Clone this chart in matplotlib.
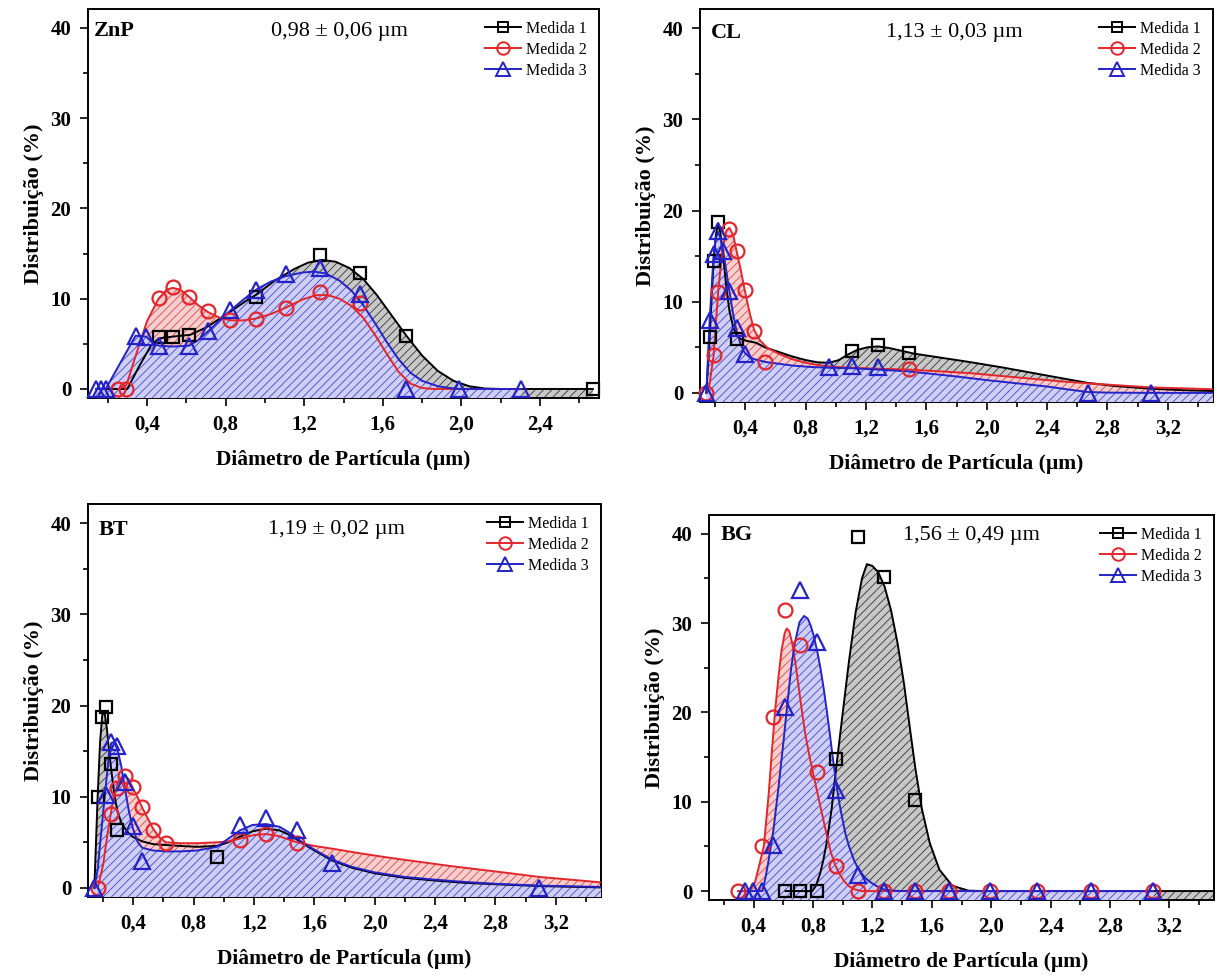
import matplotlib.pyplot as plt
from matplotlib.lines import Line2D
from matplotlib.ticker import MultipleLocator, FuncFormatter

plt.rcParams['font.family'] = ['Liberation Serif', 'DejaVu Serif']
plt.rcParams['font.weight'] = 'bold'
plt.rcParams['hatch.linewidth'] = 0.6

# ---------------- ZnP ----------------
zn_m1_x = [0.459, 0.531, 0.615, 0.955, 1.281, 1.484, 1.718, 2.669]
zn_m1_y = [5.8, 5.8, 6.0, 10.2, 14.8, 12.9, 5.9, 0.0]
zn_m2_x = [0.255, 0.295, 0.459, 0.531, 0.615, 0.712, 0.825, 0.955, 1.106, 1.281, 1.484]
zn_m2_y = [0, 0, 10.1, 11.3, 10.2, 8.6, 7.6, 7.8, 9.0, 10.7, 9.5]
zn_m3_x = [0.142, 0.164, 0.19, 0.342, 0.396, 0.459, 0.615, 0.712, 0.825, 0.955, 1.106,
           1.281, 1.484, 1.718, 1.99, 2.305]
zn_m3_y = [0, 0, 0, 5.9, 5.8, 4.8, 4.8, 6.4, 8.7, 11.0, 12.7, 13.4, 10.5, 0, 0, 0]

zn_c1_x = [0.142, 0.30, 0.36, 0.42, 0.46, 0.53, 0.62, 0.70, 0.80, 0.90, 0.96, 1.05, 1.15,
           1.22, 1.29, 1.36, 1.43, 1.50, 1.57, 1.64, 1.72, 1.80, 1.88, 1.96, 2.04, 2.12,
           2.20, 2.669]
zn_c1_y = [0, 0, 2.5, 4.8, 5.6, 5.8, 6.0, 6.8, 8.2, 9.7, 10.5, 12.0, 13.3, 14.0, 14.3, 14.1,
           13.4, 12.2, 10.4, 8.3, 5.9, 3.7, 2.0, 0.9, 0.3, 0.05, 0, 0]
zn_c2_x = [0.255, 0.295, 0.34, 0.40, 0.459, 0.50, 0.531, 0.57, 0.615, 0.66, 0.712, 0.77,
           0.825, 0.89, 0.955, 1.03, 1.106, 1.19, 1.26, 1.32, 1.38, 1.44, 1.50, 1.56, 1.62,
           1.68, 1.74, 1.80, 1.86, 2.305]
zn_c2_y = [0, 0.4, 3.5, 7.5, 10.0, 11.0, 11.2, 11.0, 10.2, 9.3, 8.5, 7.9, 7.6, 7.6, 7.8,
           8.3, 9.0, 9.9, 10.4, 10.4, 10.0, 9.2, 7.9, 6.0, 3.9, 1.9, 0.6, 0.1, 0, 0]
zn_c3_x = [0.142, 0.19, 0.342, 0.396, 0.43, 0.459, 0.531, 0.615, 0.66, 0.712, 0.77, 0.825,
           0.89, 0.955, 1.03, 1.106, 1.19, 1.25, 1.31, 1.38, 1.44, 1.50, 1.56, 1.62, 1.68,
           1.74, 1.80, 1.88, 1.96, 2.0, 2.305]
zn_c3_y = [0, 0, 5.9, 5.8, 5.1, 4.8, 4.7, 4.8, 5.4, 6.4, 7.6, 8.7, 9.9, 11.0, 11.9, 12.5,
           12.9, 13.0, 12.8, 12.0, 10.9, 9.3, 7.3, 5.2, 3.3, 1.8, 0.9, 0.3, 0.05, 0, 0]

# ---------------- CL ----------------
cl_m1_x = [0.164, 0.19, 0.22, 0.342, 1.106, 1.281, 1.484]
cl_m1_y = [6.1, 14.5, 18.7, 5.9, 4.6, 5.3, 4.4]
cl_m2_x = [0.142, 0.19, 0.22, 0.295, 0.342, 0.396, 0.459, 0.531, 1.484]
cl_m2_y = [0, 4.1, 11.1, 18.0, 15.6, 11.3, 6.8, 3.4, 2.6]
cl_m3_x = [0.142, 0.164, 0.19, 0.22, 0.255, 0.295, 0.342, 0.396, 0.955, 1.106, 1.281,
           2.669, 3.091]
cl_m3_y = [0, 8.0, 15.2, 17.8, 15.6, 11.2, 7.1, 4.3, 2.8, 2.9, 2.8, 0, 0]

cl_c1_x = [0.142, 0.164, 0.19, 0.205, 0.22, 0.235, 0.255, 0.275, 0.295, 0.32, 0.342, 0.37,
           0.41, 0.47, 0.53, 0.62, 0.71, 0.80, 0.88, 0.955, 1.02, 1.08, 1.14, 1.21, 1.28,
           1.36, 1.44, 1.52, 1.70, 1.90, 2.10, 2.30, 2.50, 2.669, 2.85, 3.091, 3.30, 3.5]
cl_c1_y = [0, 6.1, 14.5, 17.3, 18.6, 17.6, 14.8, 11.5, 9.0, 7.2, 6.3, 5.9, 5.7, 5.5, 5.0,
           4.5, 4.0, 3.6, 3.35, 3.3, 3.6, 4.2, 4.7, 5.0, 5.1, 4.9, 4.6, 4.3, 3.85, 3.35,
           2.8, 2.2, 1.6, 1.1, 0.75, 0.45, 0.3, 0.2]
cl_c2_x = [0.142, 0.164, 0.19, 0.22, 0.25, 0.275, 0.295, 0.32, 0.342, 0.37, 0.396, 0.43,
           0.459, 0.50, 0.55, 0.62, 0.71, 0.80, 0.90, 1.0, 1.106, 1.281, 1.484, 1.70, 1.90,
           2.10, 2.30, 2.50, 2.669, 2.90, 3.091, 3.30, 3.5]
cl_c2_y = [0, 1.0, 4.1, 11.0, 16.0, 17.8, 18.1, 17.3, 15.6, 13.5, 11.3, 8.7, 6.9, 5.7, 4.9,
           4.3, 3.7, 3.3, 3.0, 2.85, 2.75, 2.65, 2.55, 2.35, 2.15, 1.85, 1.55, 1.25, 1.05,
           0.8, 0.6, 0.5, 0.4]
cl_c3_x = [0.142, 0.164, 0.19, 0.205, 0.22, 0.235, 0.255, 0.275, 0.295, 0.32, 0.342, 0.37,
           0.396, 0.43, 0.459, 0.531, 0.62, 0.71, 0.825, 0.955, 1.106, 1.281, 1.484, 1.60,
           1.80, 2.0, 2.2, 2.4, 2.55, 2.669, 2.80, 3.091, 3.5]
cl_c3_y = [0, 8.0, 15.0, 17.0, 17.6, 17.0, 15.4, 13.3, 11.1, 8.6, 6.8, 5.3, 4.4, 3.9, 3.7,
           3.4, 3.2, 3.0, 2.85, 2.75, 2.7, 2.55, 2.35, 2.15, 1.8, 1.4, 1.05, 0.7, 0.35, 0.1,
           0.03, 0, 0]

# ---------------- BT ----------------
bt_m1_x = [0.164, 0.19, 0.22, 0.255, 0.295, 0.955]
bt_m1_y = [10.0, 18.7, 19.8, 13.6, 6.4, 3.4]
bt_m2_x = [0.164, 0.255, 0.295, 0.342, 0.396, 0.459, 0.531, 0.615, 1.106, 1.281, 1.484]
bt_m2_y = [0, 8.1, 11.0, 12.3, 11.1, 8.9, 6.4, 4.9, 5.3, 5.9, 4.9]
bt_m3_x = [0.142, 0.22, 0.255, 0.295, 0.342, 0.396, 0.459, 1.106, 1.281, 1.484, 1.718, 3.091]
bt_m3_y = [0, 10.2, 16.0, 15.6, 11.6, 6.8, 3.0, 6.9, 7.7, 6.3, 2.7, 0]

bt_c1_x = [0.142, 0.164, 0.18, 0.195, 0.21, 0.225, 0.24, 0.255, 0.275, 0.295, 0.32, 0.342,
           0.37, 0.396, 0.459, 0.531, 0.615, 0.712, 0.825, 0.955, 1.03, 1.106, 1.19, 1.281,
           1.37, 1.45, 1.52, 1.60, 1.718, 1.85, 2.0, 2.2, 2.4, 2.6, 2.8, 3.091, 3.5]
bt_c1_y = [0, 10.0, 16.0, 19.0, 19.2, 17.5, 15.0, 12.8, 10.2, 8.4, 7.2, 6.6, 6.0, 5.6, 5.1,
           4.8, 4.7, 4.6, 4.5, 4.6, 5.0, 5.6, 6.2, 6.5, 6.3, 5.7, 4.9, 4.1, 3.0, 2.2, 1.6,
           1.1, 0.8, 0.55, 0.4, 0.2, 0.05]
bt_c2_x = [0.164, 0.20, 0.23, 0.255, 0.275, 0.295, 0.32, 0.342, 0.37, 0.396, 0.43, 0.459,
           0.50, 0.531, 0.57, 0.615, 0.712, 0.825, 0.955, 1.03, 1.106, 1.20, 1.281, 1.36,
           1.43, 1.484, 1.60, 1.718, 1.90, 2.10, 2.30, 2.50, 2.70, 2.90, 3.091, 3.30, 3.5]
bt_c2_y = [0, 2.5, 6.0, 8.5, 10.2, 11.3, 12.1, 12.3, 11.9, 11.0, 9.9, 8.8, 7.5, 6.5, 5.6,
           5.0, 4.9, 4.9, 5.0, 5.1, 5.4, 5.8, 5.9, 5.7, 5.3, 5.0, 4.6, 4.3, 3.8, 3.3, 2.85,
           2.4, 2.0, 1.6, 1.2, 0.9, 0.6]
bt_c3_x = [0.142, 0.164, 0.19, 0.22, 0.24, 0.255, 0.275, 0.295, 0.32, 0.342, 0.37, 0.396,
           0.43, 0.459, 0.531, 0.615, 0.712, 0.825, 0.955, 1.03, 1.106, 1.19, 1.281, 1.37,
           1.45, 1.52, 1.60, 1.718, 1.85, 2.0, 2.2, 2.4, 2.6, 2.8, 3.091, 3.5]
bt_c3_y = [0, 2.0, 6.5, 11.5, 14.8, 15.9, 16.0, 15.2, 13.4, 11.2, 8.5, 6.6, 5.0, 4.4, 4.1,
           4.0, 4.0, 4.1, 4.5, 5.4, 6.3, 6.9, 7.0, 6.7, 5.9, 5.0, 4.2, 3.1, 2.3, 1.7, 1.2,
           0.9, 0.65, 0.45, 0.25, 0.1]

# ---------------- BG ----------------
bg_m1_x = [0.615, 0.712, 0.825, 0.955, 1.106, 1.281, 1.484]
bg_m1_y = [0, 0, 0, 14.8, 39.6, 35.2, 10.2]
bg_m2_x = [0.295, 0.459, 0.531, 0.615, 0.712, 0.825, 0.955, 1.106, 1.281, 1.484, 1.718,
           1.99, 2.305, 2.669, 3.091]
bg_m2_y = [0, 5.0, 19.5, 31.5, 27.6, 13.3, 2.8, 0, 0, 0, 0, 0, 0, 0, 0]
bg_m3_x = [0.342, 0.396, 0.459, 0.531, 0.615, 0.712, 0.825, 0.955, 1.106, 1.281, 1.484,
           1.718, 1.99, 2.305, 2.669, 3.091]
bg_m3_y = [0, 0, 0, 5.2, 20.6, 33.7, 27.9, 11.3, 1.8, 0, 0, 0, 0, 0, 0, 0]

bg_c1_x = [0.615, 0.795, 0.82, 0.849, 0.87, 0.892, 0.925, 0.957, 1.0, 1.043, 1.087, 1.13,
           1.163, 1.2, 1.239, 1.282, 1.326, 1.369, 1.413, 1.456, 1.488, 1.532, 1.586, 1.651,
           1.738, 1.846, 1.95, 3.5]
bg_c1_y = [0, 0, 0.6, 2.0, 3.5, 5.4, 9.1, 13.9, 19.9, 25.8, 31.2, 35.0, 36.6, 36.4, 35.7,
           34.1, 31.4, 27.8, 23.2, 17.8, 13.9, 9.3, 5.4, 2.4, 0.6, 0.05, 0, 0]
bg_c2_x = [0.295, 0.372, 0.41, 0.437, 0.469, 0.502, 0.525, 0.545, 0.568, 0.589, 0.61,
           0.624, 0.64, 0.661, 0.683, 0.704, 0.726, 0.748, 0.775, 0.802, 0.835, 0.867,
           0.895, 0.921, 0.95, 0.976, 1.01, 1.04, 1.08, 1.127, 3.091]
bg_c2_y = [0, 0, 1.0, 2.8, 5.0, 10.9, 16.0, 20.2, 24.0, 27.0, 28.9, 29.4, 29.1, 27.7, 25.4,
           22.8, 20.1, 17.6, 15.2, 13.1, 10.6, 8.2, 6.1, 4.3, 2.9, 2.0, 1.1, 0.56, 0.2, 0, 0]
bg_c3_x = [0.342, 0.46, 0.48, 0.502, 0.535, 0.567, 0.60, 0.628, 0.652, 0.676, 0.709, 0.74,
           0.765, 0.785, 0.805, 0.828, 0.85, 0.872, 0.893, 0.915, 0.936, 0.957, 0.978, 1.0,
           1.02, 1.043, 1.075, 1.108, 1.15, 1.195, 1.24, 1.282, 1.35, 1.41, 3.091]
bg_c3_y = [0, 0, 1.5, 3.5, 7.0, 11.5, 16.5, 21.0, 24.8, 27.6, 30.1, 30.8, 30.5, 29.7, 28.6,
           26.9, 25.0, 22.7, 20.2, 17.4, 14.6, 12.0, 9.8, 7.9, 6.3, 5.0, 3.5, 2.4, 1.5, 0.9,
           0.45, 0.16, 0.03, 0, 0]

names = ['ZnP', 'CL', 'BT', 'BG']
means = ['0,98 \u00b1 0,06 \u00b5m', '1,13 \u00b1 0,03 \u00b5m', '1,19 \u00b1 0,02 \u00b5m',
         '1,56 \u00b1 0,49 \u00b5m']
labels = ['Medida 1', 'Medida 2', 'Medida 3']

colors = ['black', '#e3262b', '#2323c8']
face = ['#c8c8c8', '#f7cfcf', '#cfcff6']
hatch_col = ['#363636', '#e04848', '#4646d0']
markers = ['s', 'o', '^']
msizes = [8, 10, 11.5]

# axes boxes in pixels (left, top, right, bottom) of a 1217x976 figure
boxes = [(88, 9, 599, 398), (700, 9, 1213, 402), (88, 504, 601, 897), (709, 515, 1214, 900)]
xmaxes = [2.7, 3.5, 3.5, 3.5]
name_pos = [(0.012, 0.943), (0.022, 0.939), (0.021, 0.934), (0.024, 0.948)]
mean_pos = [(0.493, 0.943), (0.495, 0.939), (0.485, 0.934), (0.519, 0.948)]

panels = [
    ([(zn_m1_x, zn_m1_y), (zn_m2_x, zn_m2_y), (zn_m3_x, zn_m3_y)],
     [(zn_c1_x, zn_c1_y), (zn_c2_x, zn_c2_y), (zn_c3_x, zn_c3_y)]),
    ([(cl_m1_x, cl_m1_y), (cl_m2_x, cl_m2_y), (cl_m3_x, cl_m3_y)],
     [(cl_c1_x, cl_c1_y), (cl_c2_x, cl_c2_y), (cl_c3_x, cl_c3_y)]),
    ([(bt_m1_x, bt_m1_y), (bt_m2_x, bt_m2_y), (bt_m3_x, bt_m3_y)],
     [(bt_c1_x, bt_c1_y), (bt_c2_x, bt_c2_y), (bt_c3_x, bt_c3_y)]),
    ([(bg_m1_x, bg_m1_y), (bg_m2_x, bg_m2_y), (bg_m3_x, bg_m3_y)],
     [(bg_c1_x, bg_c1_y), (bg_c2_x, bg_c2_y), (bg_c3_x, bg_c3_y)]),
]

W, H = 1217, 976
YMIN, YMAX = -1.0, 42.1
fig = plt.figure(figsize=(W / 100, H / 100), dpi=100)

for i, (marks, curves) in enumerate(panels):
    l, t, r, b = boxes[i]
    ax = fig.add_axes([l / W, 1 - b / H, (r - l) / W, (b - t) / H])

    for k, (cx, cy) in enumerate(curves):
        ax.fill_between(cx, cy, YMIN, facecolor=face[k], edgecolor=hatch_col[k],
                        hatch='////', linewidth=0, zorder=1 + k)
    for k, (cx, cy) in enumerate(curves):
        ax.plot(cx, cy, color=colors[k], lw=1.4, zorder=5)
    for k, (mx, my) in enumerate(marks):
        ax.plot(mx, my, ls='none', marker=markers[k], ms=msizes[k], mfc='none',
                mec=colors[k], mew=1.6, zorder=6 + k, clip_on=False)

    ax.set_xlim(0.1, xmaxes[i])
    ax.set_ylim(YMIN, YMAX)
    ax.xaxis.set_major_locator(MultipleLocator(0.4))
    ax.xaxis.set_minor_locator(MultipleLocator(0.2))
    ax.xaxis.set_major_formatter(FuncFormatter(lambda v, p: f'{v:.1f}'.replace('.', ',')))
    ax.yaxis.set_major_locator(MultipleLocator(10))
    ax.yaxis.set_minor_locator(MultipleLocator(5))
    ax.tick_params(which='both', direction='out', top=False, right=False, width=1.2,
                   labelsize=15)
    ax.tick_params(which='major', length=6, pad=6)
    ax.tick_params(which='minor', length=3.5)
    for s in ax.spines.values():
        s.set_linewidth(1.4)

    ax.set_xlabel('Di\u00e2metro de Part\u00edcula (\u00b5m)', fontsize=15.5,
                  fontweight='bold', labelpad=11)
    ax.set_ylabel('Distribui\u00e7\u00e3o (%)', fontsize=16, fontweight='bold', labelpad=5)

    ax.text(name_pos[i][0], name_pos[i][1], names[i], transform=ax.transAxes,
            ha='left', va='center', fontsize=16, fontweight='bold', zorder=10)
    ax.text(mean_pos[i][0], mean_pos[i][1], means[i], transform=ax.transAxes,
            ha='center', va='center', fontsize=16, fontweight='normal', zorder=10)

    handles = [Line2D([], [], color=colors[k], lw=1.4, marker=markers[k],
                      ms=msizes[k] * 0.9, mfc='none', mec=colors[k], mew=1.4)
               for k in range(3)]
    ax.legend(handles, labels, loc='upper right', frameon=False,
              prop={'size': 11.5, 'weight': 'normal'}, handlelength=2.3,
              handletextpad=0.3, labelspacing=0.3, borderaxespad=0.35)

fig.savefig('out.png', dpi=100)
